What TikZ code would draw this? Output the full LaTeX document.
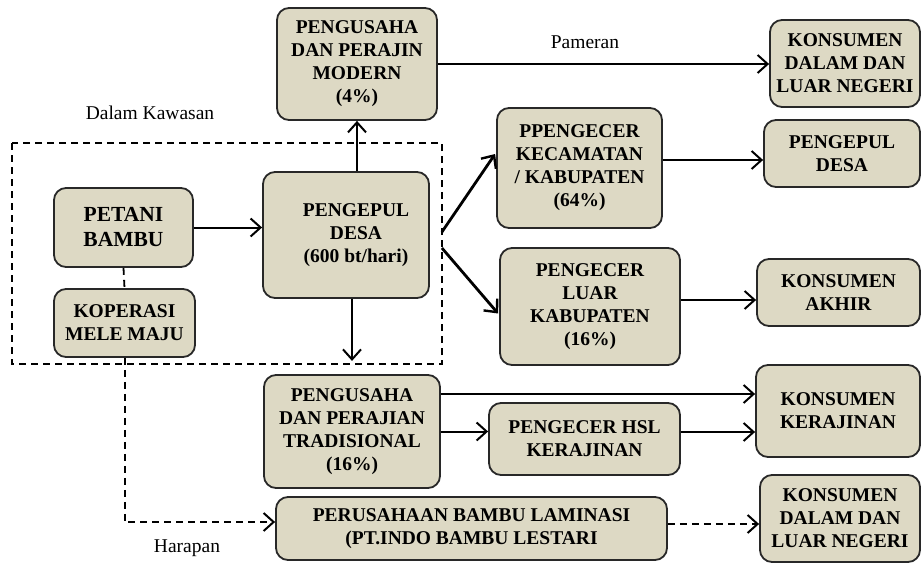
\documentclass[tikz,border=0pt]{standalone}
\usepackage{fontspec}
\setmainfont{Liberation Serif}
\usetikzlibrary{arrows.meta,calc}
\definecolor{beige}{RGB}{221,217,196}
\definecolor{edge}{RGB}{40,40,40}
\tikzset{
  box/.style={draw=edge, fill=beige, rounded corners=12pt, line width=1.8pt,
    align=center, inner sep=0pt, font=\bfseries\fontsize{19.5}{23}\selectfont},
  arr/.style={line width=2pt, -{Straight Barb[length=10pt,width=18pt,line width=2pt]}},
  thickarr/.style={line width=2.8pt, -{Straight Barb[length=10pt,width=18pt,line width=2.4pt]}},
  dsh/.style={line width=1.8pt, dash pattern=on 7pt off 5pt},
  lbl/.style={font=\fontsize{19.5}{22}\selectfont, inner sep=0pt},
}
\begin{document}
\begin{tikzpicture}[x=1pt,y=-1pt]
\useasboundingbox (0,0) rectangle (922,565);
% dashed area
\draw[dsh] (12,143) rectangle (442,364);
% nodes
\node[box, minimum width=160pt, minimum height=112pt] (modern) at (357,64) {PENGUSAHA\\DAN PERAJIN\\MODERN\\(4\%)};
\node[box, minimum width=150pt, minimum height=87pt] (kons1) at (845,63.5) {KONSUMEN\\DALAM DAN\\LUAR NEGERI};
\node[box, minimum width=139pt, minimum height=79pt, font=\bfseries\fontsize{21.5}{25}\selectfont] (petani) at (123.5,227.5) {PETANI\\BAMBU};
\node[box, minimum width=141pt, minimum height=68pt] (koperasi) at (124.5,323) {KOPERASI\\MELE MAJU};
\node[box, minimum width=166pt, minimum height=126pt] (pengepul) at (346,235) {\hspace*{20pt}PENGEPUL\\\hspace*{20pt}DESA\\\hspace*{20pt}(600 bt/hari)};
\node[box, minimum width=165pt, minimum height=120pt] (ppengecer) at (579.5,168) {PPENGECER\\KECAMATAN\\/ KABUPATEN\\(64\%)};
\node[box, minimum width=156pt, minimum height=67pt] (pengepul2) at (842,153.5) {PENGEPUL\\DESA};
\node[box, minimum width=180pt, minimum height=117pt] (luarkab) at (590,306.5) {PENGECER\\LUAR\\KABUPATEN\\(16\%)};
\node[box, minimum width=163pt, minimum height=67pt] (akhir) at (838.5,292.5) {KONSUMEN\\AKHIR};
\node[box, minimum width=176pt, minimum height=113pt] (trad) at (352,431.5) {PENGUSAHA\\DAN PERAJIAN\\TRADISIONAL\\(16\%)};
\node[box, minimum width=191pt, minimum height=72pt] (hsl) at (584.5,439) {PENGECER HSL\\KERAJINAN};
\node[box, minimum width=164pt, minimum height=92pt] (kerajinan) at (838,411) {KONSUMEN\\KERAJINAN};
\node[box, minimum width=391pt, minimum height=63pt] (laminasi) at (471.5,528.5) {PERUSAHAAN BAMBU LAMINASI\\(PT.INDO BAMBU LESTARI};
\node[box, minimum width=160pt, minimum height=87pt] (kons2) at (840,518.5) {KONSUMEN\\DALAM DAN\\LUAR NEGERI};
% labels
\node[lbl] (kawasan) at (150,113) {Dalam Kawasan};
\node[lbl] (pameran) at (585,42) {Pameran};
\node[lbl] (harapan) at (187,548) {Harapan};
% helper coordinates
\coordinate (pup) at ($(modern.south |- pengepul.north)$);
\coordinate (pdn1) at ($(pengepul.south)+(6,0)$);
\coordinate (pdn2) at ($(pengepul.south)+(6,62)$);
\coordinate (f1) at ($(pengepul.east)+(12,-3)$);
\coordinate (f2) at ($(pengepul.east)+(12,13)$);
\coordinate (t1) at ($(ppengecer.west)+(-1,-14)$);
\coordinate (t2) at ($(luarkab.west)+(-1,7)$);
\coordinate (a1) at ($(ppengecer.east)+(0,-8)$);
\coordinate (a2) at ($(luarkab.east)+(0,-6.5)$);
\coordinate (a3) at ($(trad.east)+(0,-37.5)$);
\coordinate (a4) at ($(hsl.east)+(0,-7)$);
\coordinate (a5) at ($(laminasi.east)+(0,-4.5)$);
\coordinate (lw) at ($(laminasi.west)+(0,-6.5)$);
% connectors
\draw[arr] (petani.east) -- (petani.east -| pengepul.west);
\draw[arr] (pup) -- (modern.south);
\draw[arr] (pdn1) -- (pdn2);
\draw[arr] (modern.east) -- (modern.east -| kons1.west);
\draw[thickarr] (f1) -- (t1);
\draw[thickarr] (f2) -- (t2);
\draw[arr] (a1) -- (a1 -| pengepul2.west);
\draw[arr] (a2) -- (a2 -| akhir.west);
\draw[arr] (a3) -- (a3 -| kerajinan.west);
\draw[arr] (trad.east) -- (trad.east -| hsl.west);
\draw[arr] (a4) -- (a4 -| kerajinan.west);
\draw[arr, dash pattern=on 7pt off 5pt] (a5) -- (a5 -| kons2.west);
\draw[dsh] (petani.south) -- (koperasi.north);
\draw[arr, dash pattern=on 7pt off 5pt] (koperasi.south) |- (lw);
\end{tikzpicture}
\end{document}
